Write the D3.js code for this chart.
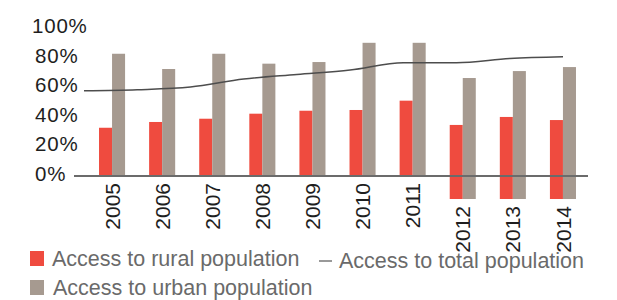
<!DOCTYPE html>
<html lang="en">
<head>
    <meta charset="UTF-8">
    <script type="text/javascript" src="https://cdn.jsdelivr.net/npm/d3@7/dist/d3.min.js"></script>
    <title>Access</title>
    <style>
        body { margin: 0; background: #fff; }
        svg { display: block; font-family: "Liberation Sans", Arial, sans-serif; }
    </style>
</head>
<body>
<script>
    var years = ["2005", "2006", "2007", "2008", "2009", "2010", "2011", "2012", "2013", "2014"];
    var rural = [32.6, 36.5, 38.7, 42.1, 44.1, 44.6, 50.9, 34.5, 39.9, 37.8];
    var urban = [82.6, 72.3, 82.6, 75.9, 77.0, 90.0, 90.0, 66.2, 70.9, 73.6];
    var total = [57.6, 58.3, 60.1, 65.5, 68.6, 71.6, 76.6, 76.6, 79.4, 80.6];
    var yTicks = [0, 20, 40, 60, 80, 100];
    // these years hang below the axis in the original
    var dropped = ["2012", "2013", "2014"];

    var red = "#ef4b3f", grey = "#a69a90";

    var svg = d3.select("body").append("svg")
        .attr("width", 617)
        .attr("height", 300);

    var y = d3.scaleLinear().domain([0, 100]).range([176, 28]);
    var x = d3.scaleBand().domain(years).range([87, 588])
        .paddingInner(0.48).paddingOuter(0.24);
    var xLine = d3.scalePoint().domain(years).range([84, 563]);

    var drop = function(yr) { return dropped.indexOf(yr) >= 0 ? 23 : 0; };
    var bw = x.bandwidth() / 2;

    // y labels
    svg.append("g").selectAll("text")
        .data(yTicks)
        .enter().append("text")
        .attr("x", function(d) { return d == 100 ? 32 : 35; })
        .attr("y", function(d) { return y(d) + 5; })
        .attr("font-size", 20.5)
        .attr("letter-spacing", 0.8)
        .attr("fill", "#1e1e1e")
        .text(function(d) { return d + "%"; });

    // bars
    svg.append("g").selectAll("rect")
        .data(years)
        .enter().append("rect")
        .attr("x", function(d) { return x(d); })
        .attr("y", function(d, i) { return y(rural[i]); })
        .attr("width", bw)
        .attr("height", function(d, i) { return y(0) - y(rural[i]) + drop(d); })
        .attr("fill", red);

    svg.append("g").selectAll("rect")
        .data(years)
        .enter().append("rect")
        .attr("x", function(d) { return x(d) + bw; })
        .attr("y", function(d, i) { return y(urban[i]); })
        .attr("width", bw)
        .attr("height", function(d, i) { return y(0) - y(urban[i]) + drop(d); })
        .attr("fill", grey);

    // axis
    svg.append("line")
        .attr("x1", 74).attr("x2", 588)
        .attr("y1", y(0)).attr("y2", y(0))
        .attr("stroke", "#6b6b6b")
        .attr("stroke-width", 2);

    // total line
    var line = d3.line()
        .x(function(d, i) { return xLine(years[i]); })
        .y(function(d) { return y(d); })
        .curve(d3.curveMonotoneX);

    svg.append("path")
        .datum(total)
        .attr("d", line)
        .attr("fill", "none")
        .attr("stroke", "#4d4d4d")
        .attr("stroke-width", 1.5);

    // x labels
    svg.append("g").selectAll("text")
        .data(years)
        .enter().append("text")
        .attr("transform", function(d) {
            return "translate(" + (x(d) + bw) + "," + (183 + drop(d)) + ") rotate(-90)";
        })
        .attr("text-anchor", "end")
        .attr("dy", "0.36em")
        .attr("font-size", 21)
        .attr("fill", "#1e1e1e")
        .text(function(d) { return d; });

    // legend
    var leg = svg.append("g").attr("font-size", 21.5).attr("fill", "#6a6a6a");
    leg.append("rect").attr("x", 30).attr("y", 251).attr("width", 14).attr("height", 15).attr("fill", red);
    leg.append("text").attr("x", 52).attr("y", 266).text("Access to rural population");
    leg.append("line").attr("x1", 319).attr("x2", 332).attr("y1", 261).attr("y2", 261)
        .attr("stroke", "#555").attr("stroke-width", 1.2);
    leg.append("text").attr("x", 339).attr("y", 268).text("Access to total population");
    leg.append("rect").attr("x", 30).attr("y", 280).attr("width", 14).attr("height", 15).attr("fill", grey);
    leg.append("text").attr("x", 53).attr("y", 295).text("Access to urban population");
</script>
</body>
</html>
